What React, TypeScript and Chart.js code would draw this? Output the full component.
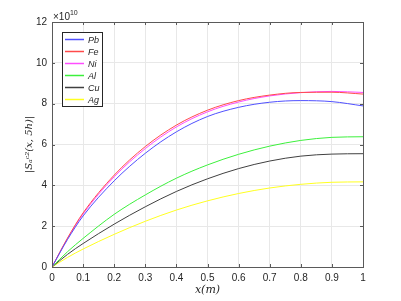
import React, { useEffect, useRef } from "react";
import { Chart, registerables } from "chart.js";

Chart.register(...registerables);

const xValues = [0, 0.05, 0.1, 0.2, 0.3, 0.4, 0.5, 0.6, 0.7, 0.8, 0.9, 1.0];
const seriesNames = ["Pb", "Fe", "Ni", "Al", "Cu", "Ag"];
const pbValues = [0, 1.35, 2.5, 4.22, 5.57, 6.62, 7.37, 7.82, 8.07, 8.15, 8.1, 7.89];
const feValues = [0, 1.42, 2.65, 4.5, 5.9, 6.95, 7.68, 8.15, 8.42, 8.55, 8.56, 8.47];
const niValues = [0, 1.4, 2.6, 4.42, 5.8, 6.86, 7.6, 8.08, 8.38, 8.54, 8.6, 8.55];
const alValues = [0, 0.75, 1.4, 2.58, 3.53, 4.35, 5.0, 5.52, 5.92, 6.2, 6.35, 6.38];
const cuValues = [0, 0.62, 1.15, 2.1, 2.95, 3.7, 4.32, 4.82, 5.19, 5.43, 5.53, 5.55];
const agValues = [0, 0.47, 0.88, 1.6, 2.24, 2.79, 3.24, 3.6, 3.87, 4.05, 4.15, 4.17];
const seriesColors = ["#5050ff", "#ff4a4a", "#ff4dff", "#3cf03c", "#404040", "#ffff20"];
const yTickValues = [0, 2, 4, 6, 8, 10, 12];

const allSeries = [pbValues, feValues, niValues, alValues, cuValues, agValues];

const frame = {
  id: "frame",
  beforeDatasetsDraw(chart: any) {
    const { ctx, chartArea } = chart;
    const { left, right, top, bottom } = chartArea;
    const xs = chart.scales.x;
    const ys = chart.scales.y;
    ctx.save();
    ctx.strokeStyle = "#5a5a5a";
    ctx.lineWidth = 1;
    ctx.beginPath();
    for (let i = 0; i <= 10; i++) {
      const px = Math.round(xs.getPixelForValue(i / 10)) + 0.5;
      ctx.moveTo(px, bottom);
      ctx.lineTo(px, bottom - 3);
      ctx.moveTo(px, top);
      ctx.lineTo(px, top + 3);
    }
    for (const v of yTickValues) {
      const py = Math.round(ys.getPixelForValue(v)) + 0.5;
      ctx.moveTo(left, py);
      ctx.lineTo(left + 3, py);
      ctx.moveTo(right, py);
      ctx.lineTo(right - 3, py);
    }
    ctx.stroke();
    ctx.restore();
  },
  afterDraw(chart: any) {
    const { ctx, chartArea } = chart;
    const { left, right, top, bottom } = chartArea;
    ctx.save();
    ctx.strokeStyle = "#5a5a5a";
    ctx.lineWidth = 1;
    ctx.strokeRect(Math.round(left) + 0.5, Math.round(top) + 0.5, Math.round(right - left), Math.round(bottom - top));

    ctx.fillStyle = "#262626";
    ctx.textBaseline = "alphabetic";
    ctx.textAlign = "left";
    ctx.font = "10px 'Liberation Sans', Arial, sans-serif";
    ctx.fillText("\u00D710", left + 1, 20);
    const w = ctx.measureText("\u00D710").width;
    ctx.font = "7px 'Liberation Sans', Arial, sans-serif";
    ctx.fillText("10", left + 1 + w, 15);

    ctx.font = "italic 11px 'DejaVu Serif', 'Liberation Serif', serif";
    ctx.textAlign = "center";
    ctx.textBaseline = "middle";
    ctx.fillText("x(m)", (left + right) / 2, 290);

    ctx.save();
    ctx.translate(29, (top + bottom) / 2);
    ctx.rotate(-Math.PI / 2);
    ctx.font = "italic 10px 'DejaVu Serif', 'Liberation Serif', serif";
    ctx.fillText("|S\u2090\u1D9C\u00B2(x, 5h)|", 0, 0);
    ctx.restore();

    const lx = left + 10;
    const ly = top + 10;
    const lw = 40;
    const lh = 74;
    ctx.fillStyle = "#ffffff";
    ctx.fillRect(lx, ly, lw, lh);
    ctx.strokeStyle = "#262626";
    ctx.lineWidth = 1;
    ctx.strokeRect(lx + 0.5, ly + 0.5, lw, lh);
    ctx.font = "italic 9px 'Liberation Sans', Arial, sans-serif";
    ctx.textAlign = "left";
    ctx.textBaseline = "middle";
    seriesNames.forEach((name, i) => {
      const yy = ly + 7 + i * 12;
      ctx.strokeStyle = seriesColors[i];
      ctx.lineWidth = 1.5;
      ctx.beginPath();
      ctx.moveTo(lx + 3, yy + 0.5);
      ctx.lineTo(lx + 22, yy + 0.5);
      ctx.stroke();
      ctx.fillStyle = "#262626";
      ctx.fillText(name, lx + 26, yy + 1);
    });
    ctx.restore();
  },
};

export default function App() {
  const ref = useRef<HTMLCanvasElement | null>(null);
  useEffect(() => {
    document.body.style.margin = "0";
    const canvas = ref.current;
    if (!canvas) return;
    const datasets = seriesNames.map((name, i) => ({
      label: name,
      data: xValues.map((x, j) => ({ x, y: allSeries[i][j] })),
      borderColor: seriesColors[i],
      backgroundColor: seriesColors[i],
      borderWidth: 1,
      pointRadius: 0,
      cubicInterpolationMode: "monotone" as const,
      fill: false,
    }));
    const chart = new Chart(canvas, {
      type: "line",
      data: { datasets },
      options: {
        responsive: false,
        animation: false,
        layout: { padding: { left: 0, top: 22, right: 38, bottom: 0 } },
        plugins: { legend: { display: false }, tooltip: { enabled: false } },
        scales: {
          x: {
            type: "linear",
            min: 0,
            max: 1,
            afterFit: (s: any) => {
              s.height = 34;
            },
            grid: { color: "#e8e8e8", drawTicks: false },
            border: { display: false },
            ticks: {
              stepSize: 0.1,
              padding: 5,
              color: "#262626",
              font: { family: "'Liberation Sans', Arial, sans-serif", size: 10 },
              callback: (v: any) => String(Number(Number(v).toFixed(1))),
            },
          },
          y: {
            type: "linear",
            min: 0,
            max: 12,
            afterFit: (s: any) => {
              s.width = 52;
            },
            grid: { color: "#e8e8e8", drawTicks: false },
            border: { display: false },
            ticks: {
              stepSize: 2,
              padding: 5,
              color: "#262626",
              font: { family: "'Liberation Sans', Arial, sans-serif", size: 10 },
            },
          },
        },
      },
      plugins: [frame],
    });
    return () => chart.destroy();
  }, []);
  return (
    <div style={{ position: "fixed", left: 0, top: 0, width: 401, height: 301, background: "#fff" }}>
      <canvas ref={ref} width={401} height={301} />
    </div>
  );
}
